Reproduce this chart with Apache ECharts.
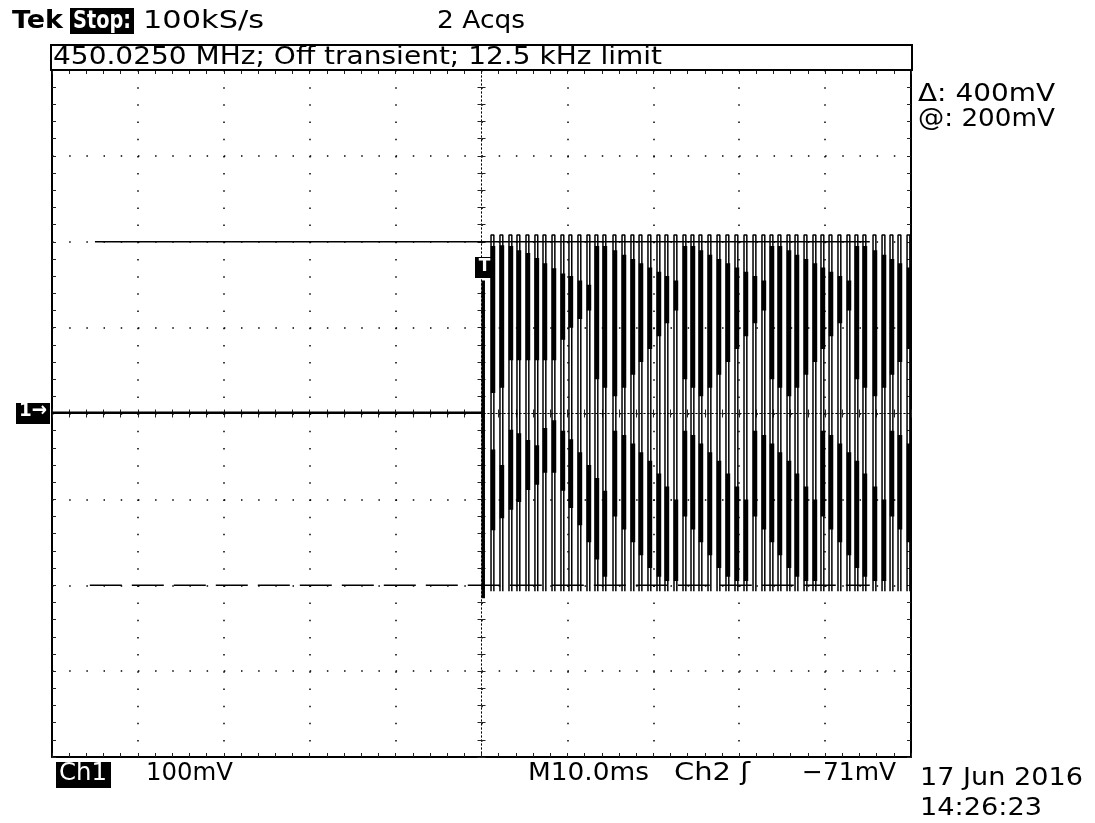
<!DOCTYPE html>
<html><head><meta charset="utf-8">
<script src="https://cdn.jsdelivr.net/npm/echarts@6/dist/echarts.min.js"></script>
<style>html,body{margin:0;padding:0;background:#fff}#c{width:1095px;height:823px}</style>
</head><body><div id="c"></div>
<script>
// ---- data ----
const timeRange = [-50, 50];          // ms, 10 ms/div
const voltRange = [-400, 400];        // mV, 100 mV/div
const preTrigger = [[-50, 1], [0.2, 1]];
const triggerTime = 0.2;
const triggerSpan = [155, -215];
const pulseTimes = [1.11,2.15,3.20,4.13,5.18,6.22,7.16,8.21,9.25,10.18,11.23,12.28,13.21,14.14,15.31,16.36,17.40,18.34,19.38,20.43,21.36,22.41,23.46,24.39,25.32,26.37,27.42,28.46,29.51,30.56,31.61,32.65,33.59,34.52,35.57,36.50,37.55,38.59,39.52,40.46,41.50,42.55,43.48,44.41,45.58,46.63,47.56,48.49,49.54];
const pulseLow = -207;
const pulseHigh = 208;
const upperBands = [[195,24],[196,30],[195,62],[190,62],[187,62],[181,62],[175,62],[169,62],[163,86],
 [160,100],[155,110],[150,120],[195,40],[195,30],[190,20],[185,30],[180,45],[175,60],[170,75],[165,90],[160,105],[155,120],
 [195,40],[195,30],[190,20],[185,30],[180,45],[175,60],[170,75],[165,90],[160,105],[155,120],
 [195,40],[195,30],[190,20],[185,30],[180,45],[175,60],[170,75],[165,90],[160,105],[155,120],
 [195,40],[195,30],[190,20],[185,30],[180,45],[175,60],[170,75]];
const lowerBands = [[-42,-136],[-60,-122],[-19,-112],[-23,-103],[-31,-89],[-37,-83],[-17,-69],[-8,-69],[-20,-90],
 [-30,-110],[-45,-130],[-60,-150],[-75,-170],[-90,-190],[-20,-120],[-25,-135],[-35,-150],[-45,-165],[-55,-180],[-70,-190],[-85,-195],[-100,-195],
 [-20,-120],[-25,-135],[-35,-150],[-45,-165],[-55,-180],[-70,-190],[-85,-195],[-100,-195],
 [-20,-120],[-25,-135],[-35,-150],[-45,-165],[-55,-180],[-70,-190],[-85,-195],[-100,-195],
 [-20,-120],[-25,-135],[-35,-150],[-45,-165],[-55,-180],[-70,-190],[-85,-195],[-100,-195],
 [-20,-120],[-25,-135],[-35,-150]];
const cursorHigh = 200, cursorLow = -200;
const cursorHighSpan = [-45.0, 45.2];
const cursorLowSpan = [-45.6, 45.2];
const pulseWidth = 0.33;

// ---- build series data ----
const thinData = [];
pulseTimes.forEach(t => {
  thinData.push([t, pulseLow], [t, pulseHigh], [t + pulseWidth, pulseHigh], [t + pulseWidth, pulseLow], [null, null]);
});
const bandData = [];
pulseTimes.forEach((t, i) => {
  const xc = t + pulseWidth * 0.7;
  bandData.push([xc, upperBands[i][0]], [xc, upperBands[i][1]], [null, null]);
  bandData.push([xc, lowerBands[i][0]], [xc, lowerBands[i][1]], [null, null]);
});
const trigData = [[triggerTime, triggerSpan[0]], [triggerTime, triggerSpan[1]]];

const minor = {show: true, splitNumber: 5, length: 4, lineStyle: {color: '#222', width: 1}};
function borderX(pos, split) {
  return {type: 'value', min: timeRange[0], max: timeRange[1], interval: 10, position: pos,
    axisLine: {show: true, onZero: false, lineStyle: {color: '#000', width: 2}},
    axisTick: {show: true, inside: true, length: 4, lineStyle: {color: '#222'}},
    minorTick: minor, axisLabel: {show: false},
    splitLine: {show: split, lineStyle: {color: '#000', width: 1.5, type: [1.5, 15.68]}}};
}
function borderY(pos, split) {
  return {type: 'value', min: voltRange[0], max: voltRange[1], interval: 100, position: pos,
    axisLine: {show: true, onZero: false, lineStyle: {color: '#000', width: 2}},
    axisTick: {show: true, inside: true, length: 4, lineStyle: {color: '#222'}},
    minorTick: minor, axisLabel: {show: false},
    splitLine: {show: split, lineStyle: {color: '#000', width: 1.5, type: [1.5, 15.68]}}};
}
function centerX(inside) {
  return {type: 'value', min: timeRange[0], max: timeRange[1], interval: 10,
    axisLine: {show: true, onZero: true, onZeroAxisIndex: 0, lineStyle: {color: '#000', width: 1, type: [1, 3]}},
    axisTick: {show: true, inside: inside, length: 4, lineStyle: {color: '#222'}},
    minorTick: minor, axisLabel: {show: false}, splitLine: {show: false}};
}
function centerY(inside) {
  return {type: 'value', min: voltRange[0], max: voltRange[1], interval: 100,
    axisLine: {show: true, onZero: true, onZeroAxisIndex: 0, lineStyle: {color: '#000', width: 1, type: [1, 3]}},
    axisTick: {show: true, inside: inside, length: 4, lineStyle: {color: '#222'}},
    minorTick: minor, axisLabel: {show: false}, splitLine: {show: false}};
}

const mctx = document.createElement('canvas').getContext('2d');
function fitText(s, x, y, w, size, weight, fill, z) {
  const font = (weight || 'normal') + ' ' + size + 'px "DejaVu Sans"';
  mctx.font = font;
  const mw = mctx.measureText(s).width;
  return {type: 'text', x: x, y: y, scaleX: w / mw, z: z || 10,
    style: {text: s, font: font, fill: fill || '#000', textVerticalAlign: 'top'}};
}

const chart = echarts.init(document.getElementById('c'), null, {renderer: 'canvas'});
chart.setOption({
  animation: false,
  backgroundColor: '#fff',
  grid: {left: 52, right: 184, top: 70, bottom: 66, containLabel: false},
  xAxis: [borderX('bottom', true), borderX('top', false), centerX(true), centerX(false)],
  yAxis: [borderY('left', true), borderY('right', false), centerY(true), centerY(false)],
  series: [
    {type: 'line', data: preTrigger, symbol: 'none', lineStyle: {color: '#000', width: 2.5}, z: 5},
    {type: 'line', data: [[cursorHighSpan[0], cursorHigh], [cursorHighSpan[1], cursorHigh]], symbol: 'none',
      lineStyle: {color: '#000', width: 1.5}, z: 4},
    {type: 'line', data: [[cursorLowSpan[0], cursorLow], [cursorLowSpan[1], cursorLow]], symbol: 'none',
      lineStyle: {color: '#000', width: 1.5, type: [32, 10]}, z: 4},
    {type: 'line', data: thinData, symbol: 'none', connectNulls: false, lineStyle: {color: '#000', width: 1.5}, z: 5},
    {type: 'line', data: bandData, symbol: 'none', connectNulls: false, lineStyle: {color: '#000', width: 4.5, cap: 'butt'}, z: 6},
    {type: 'line', data: trigData, symbol: 'none', lineStyle: {color: '#000', width: 3.5}, z: 6}
  ],
  graphic: [
    fitText('Tek', 12, 9, 51, 25, 'bold'),
    {type: 'rect', shape: {x: 70, y: 8, width: 64, height: 26}, style: {fill: '#000'}, z: 9},
    fitText('Stop:', 73, 9, 58, 25, 'bold', '#fff'),
    fitText('100kS/s', 143, 9, 121, 25),
    fitText('2 Acqs', 437, 9, 88, 25),
    {type: 'rect', shape: {x: 51, y: 45, width: 861, height: 25}, style: {fill: 'none', stroke: '#000', lineWidth: 2}, z: 9},
    fitText('450.0250 MHz; Off transient; 12.5 kHz limit', 53, 45, 609, 25),
    fitText('\u0394: 400mV', 918, 82, 137, 25),
    fitText('@: 200mV', 918, 107, 137, 25),
    {type: 'rect', shape: {x: 16, y: 403, width: 34, height: 21}, style: {fill: '#000'}, z: 9},
    fitText('1\u2192', 19, 401, 28, 20, 'bold', '#fff'),
    {type: 'rect', shape: {x: 475, y: 257, width: 19, height: 21}, style: {fill: '#000'}, z: 20},
    {type: 'text', x: 484.5, y: 258, z: 21,
      style: {text: 'T', font: 'bold 17px "DejaVu Sans"', fill: '#fff', textAlign: 'center', textVerticalAlign: 'top'}},
    {type: 'rect', shape: {x: 56, y: 762, width: 55, height: 26}, style: {fill: '#000'}, z: 9},
    fitText('Ch1', 59, 761, 48, 25, 'normal', '#fff'),
    fitText('100mV', 146, 761, 87, 25),
    fitText('M10.0ms', 528, 761, 121, 25),
    fitText('Ch2 \u0283', 674, 761, 76, 25),
    fitText('\u221271mV', 802, 761, 94, 25),
    fitText('17 Jun 2016', 920, 766, 163, 25),
    fitText('14:26:23', 920, 796, 122, 25)
  ]
});
</script></body></html>
